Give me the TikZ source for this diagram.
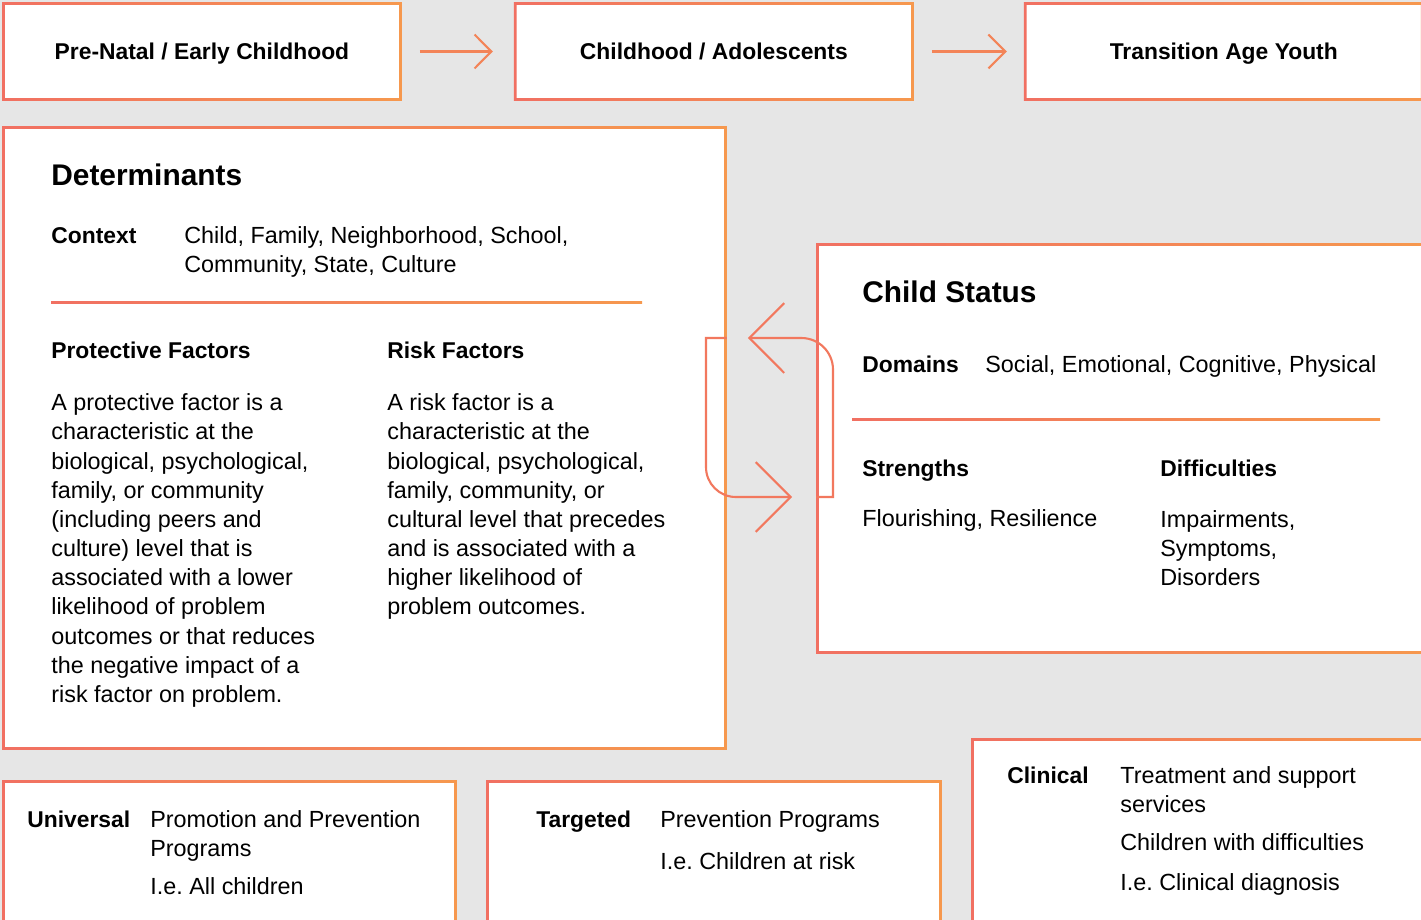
\documentclass[tikz,border=0pt]{standalone}
\usepackage{fontspec}
\setmainfont{Liberation Sans}
\usepackage{xcolor}
\usepackage{tikz}
\usetikzlibrary{arrows.meta,positioning}

\definecolor{cRed}{RGB}{241,112,98}
\definecolor{cOrange}{RGB}{246,152,78}
\definecolor{bgGray}{RGB}{230,230,230}

\begin{document}
\begin{tikzpicture}[
    x=0.02cm, y=-0.02cm,
    box/.style={rectangle, fill=white, outer sep=0pt, inner sep=0pt, anchor=north west,
        path picture={\shade[left color=cRed, right color=cOrange, even odd rule]
            (path picture bounding box.south west) rectangle (path picture bounding box.north east)
            ([shift={(1.6pt,1.6pt)}]path picture bounding box.south west) rectangle
            ([shift={(-1.6pt,-1.6pt)}]path picture bounding box.north east);}},
    stage/.style={box, minimum width=8cm, minimum height=1.98cm, text height=9.3pt, text depth=0pt,
        font=\bfseries\fontsize{13}{16}\selectfont},
    txt/.style={anchor=base west, align=left, inner sep=0pt, font=\fontsize{13.3}{16.6}\selectfont},
    para/.style={txt, anchor=north west, execute at begin node=\strut},
    hd/.style={txt, font=\bfseries\fontsize{13}{16}\selectfont},
    big/.style={txt, font=\bfseries\fontsize{17}{20}\selectfont},
    flow/.style={-{Straight Barb[length=9.6pt, width=19.3pt]}, line width=1.2pt, color=cRed!50!cOrange},
    loop/.style={-{Straight Barb[length=19.8pt, width=39.7pt]}, line width=1.2pt, color=cRed!80!cOrange}
]
\useasboundingbox (0,0) rectangle (1421,920);
\fill[bgGray] (0,0) rectangle (1421,920);
\clip (0,0) rectangle (1421,920);

% Stages
\node[stage] (early) at (2,2) {Pre-Natal / Early Childhood};
\node[stage, right=2.24cm of early.north east, anchor=north west] (child) {Childhood / Adolescents};
\node[stage, right=2.2cm of child.north east, anchor=north west] (youth) {Transition Age Youth};

% Determinants (para nodes sit 16 above their first baseline)
\node[box, minimum width=14.5cm, minimum height=12.48cm] (det) at (2,126) {};
\node[big] (dethd) at (51,185) {Determinants};
\node[hd] (ctx) at (51,243) {Context};
\node[para] (ctxtxt) at (184,226) {Child, Family, Neighborhood, School,\\Community, State, Culture};
\shade[left color=cRed, right color=cOrange] (51,301) rectangle (642,303.5);

\node[hd] (prothd) at (51,358) {Protective Factors};
\node[para] (prot) at (51,393.5) {A protective factor is a\\characteristic at the\\biological, psychological,\\family, or community\\(including peers and\\culture) level that is\\associated with a lower\\likelihood of problem\\outcomes or that reduces\\the negative impact of a\\risk factor on problem.};
\node[hd] (riskhd) at (387,358) {Risk Factors};
\node[para] (risk) at (387,393.5) {A risk factor is a\\characteristic at the\\biological, psychological,\\family, community, or\\cultural level that precedes\\and is associated with a\\higher likelihood of\\problem outcomes.};

% Child status
\node[box, minimum width=12.16cm, minimum height=8.22cm] (cs) at (816,243) {};
\node[big] (cshd) at (862,302) {Child Status};
\node[hd] (dom) at (862,372) {Domains};
\node[txt] (domtxt) at (985,372) {Social, Emotional, Cognitive, Physical};
\shade[left color=cRed, right color=cOrange] (852,418) rectangle (1380,420.5);
\node[hd] (strhd) at (862,476) {Strengths};
\node[hd] (difhd) at (1160,476) {Difficulties};
\node[txt] (str) at (862,526) {Flourishing, Resilience};
\node[para] (dif) at (1160,510) {Impairments,\\Symptoms,\\Disorders};

% Services
\node[box, minimum width=9.1cm, minimum height=2.9cm] (uni) at (2,780) {};
\node[hd] (unihd) at (27,827) {Universal};
\node[para] (unitxt) at (150,810.5) {Promotion and Prevention\\Programs\\[5pt]I.e.\ All children};
\node[box, minimum width=9.12cm, minimum height=2.9cm] (tgt) at (486,780) {};
\node[hd] (tgthd) at (536,827) {Targeted};
\node[para] (tgttxt) at (660,810.5) {Prevention Programs\\[7pt]I.e.\ Children at risk};
\node[box, minimum width=9.06cm, minimum height=3.74cm] (cln) at (971,738) {};
\node[hd] (clnhd) at (1007,783) {Clinical};
\node[para] (clntxt) at (1120,766.5) {Treatment and support\\services\\[5pt]Children with difficulties\\[6pt]I.e.\ Clinical diagnosis};

% Arrows
\draw[flow, shorten <=0.36cm, shorten >=0.42cm] (early) -- (child);
\draw[flow, shorten <=0.36cm, shorten >=0.34cm] (child) -- (youth);

\coordinate (upy) at (0,338);
\coordinate (lowy) at (0,497);
\draw[loop, shorten >=0.42cm] (cs.west |- lowy) -- (833,497) -- (833,420) [rounded corners=18pt] -- (833,338) -- (det.east |- upy);
\draw[loop, shorten >=0.48cm] (det.east |- upy) -- (706,338) -- (706,420) [rounded corners=17pt] -- (706,497) -- (cs.west |- lowy);

\end{tikzpicture}
\end{document}
